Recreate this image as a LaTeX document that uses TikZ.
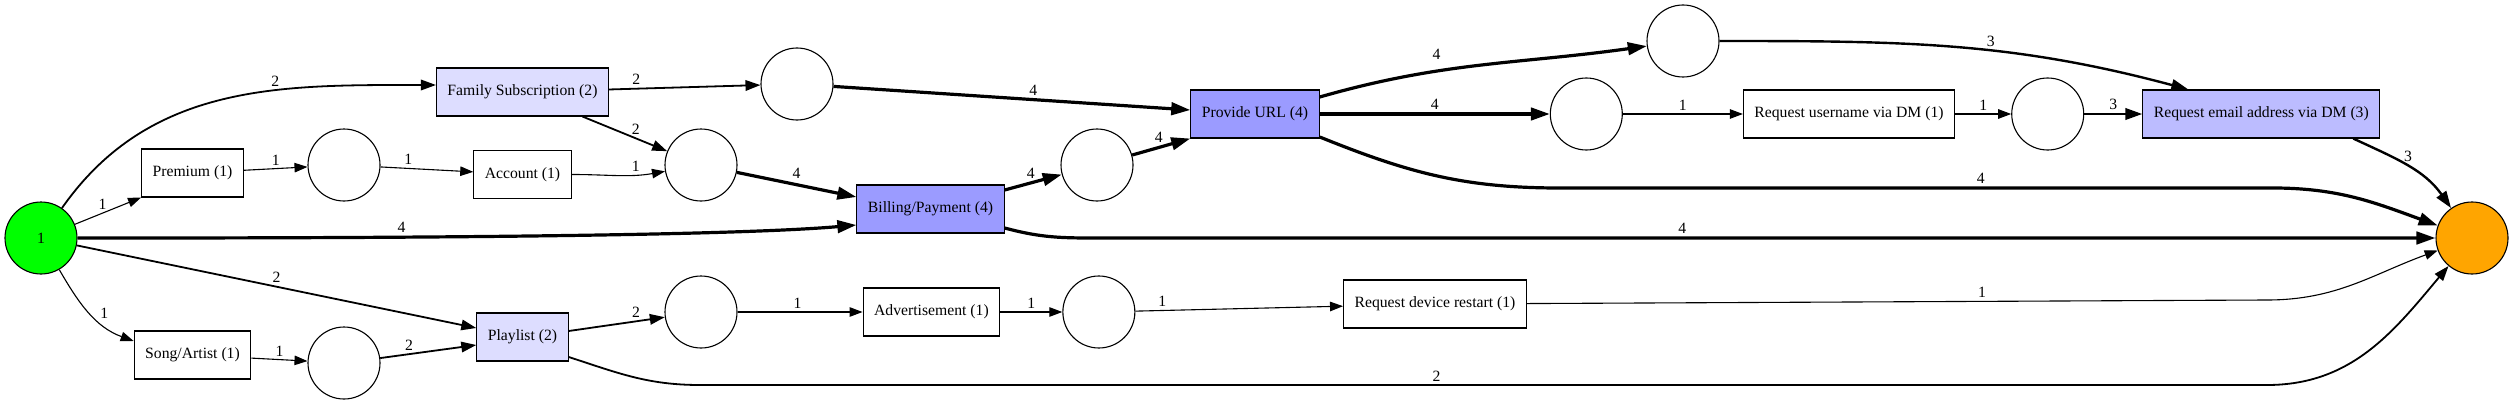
\documentclass[tikz,border=0pt]{standalone}
\usepackage{fontspec}
\setmainfont{Liberation Serif}
\usetikzlibrary{arrows.meta,positioning}
\definecolor{SrcGreen}{HTML}{00FF00}
\definecolor{SinkOrange}{HTML}{FFA500}
\definecolor{FreqTwo}{HTML}{DDDDFF}
\definecolor{FreqThree}{HTML}{BCBCFF}
\definecolor{FreqFour}{HTML}{9B9BFF}

\begin{document}
\begin{tikzpicture}[
  x=1pt, y=1pt,
  font=\fontsize{15.7}{18}\selectfont,
  place/.style={circle,draw,line width=1.1pt,minimum size=72pt,inner sep=0pt,fill=white},
  trans/.style={rectangle,draw,line width=1.1pt,minimum height=48pt,inner xsep=11pt,inner ysep=0pt,fill=white},
  lbl/.style={inner sep=1pt},
  arc1/.style={-{Triangle[length=13pt,width=9.5pt]},line width=1.1pt},
  arc2/.style={-{Triangle[length=15pt,width=10.5pt]},line width=1.8pt},
  arc3/.style={-{Triangle[length=17pt,width=11.5pt]},line width=2.4pt},
  arc4/.style={-{Triangle[length=19pt,width=12.5pt]},line width=3.2pt}
]
\useasboundingbox (0,0) rectangle (2513,-404);
% places and transitions
\node[place,fill=SrcGreen] (src) at (41,-238) {1};
\node[place,fill=SinkOrange] (sink) at (2472,-238) {};
\node[trans] (prem) at (192.5,-173) {Premium (1)};
\node[place] (ppr) at (344,-165) {};
\node[trans] (acc) at (522.5,-174.5) {Account (1)};
\node[trans,fill=FreqTwo] (fam) at (522.5,-92) {Family Subscription (2)};
\node[place] (pfam) at (797,-84) {};
\node[place] (pjoin) at (701,-165) {};
\node[trans,fill=FreqFour] (bill) at (930.5,-209) {Billing/Payment (4)};
\node[place] (pbill) at (1097,-165) {};
\node[trans,fill=FreqFour] (url) at (1255,-114) {Provide URL (4)};
\node[place] (ptop) at (1683,-41) {};
\node[place,right=230pt of url] (pmid) {};
\node[trans,right=120pt of pmid] (ruser) {Request username via DM (1)};
\node[place,right=56pt of ruser] (puser) {};
\node[trans,fill=FreqThree,right=58pt of puser] (remail) {Request email address via DM (3)};
\node[trans] (song) at (192.5,-355) {Song/Artist (1)};
\node[place] (psong) at (344,-363) {};
\node[trans,fill=FreqTwo] (play) at (522.5,-337) {Playlist (2)};
\node[place] (pplay) at (701,-312) {};
\node[trans,right=125pt of pplay] (adv) {Advertisement (1)};
\node[place,right=62pt of adv] (padv) {};
\node[trans] (rdev) at (1435,-304) {Request device restart (1)};
% bends of the long arcs
\coordinate (urlA) at (1560,-188);
\coordinate (urlB) at (2273,-188);
\coordinate (playA) at (700,-385);
\coordinate (playB) at (2267,-385);
\coordinate (devA) at (2267,-300);
% arcs
\draw[arc2] (src) to[out=55,in=180] node[lbl,pos=0.63,above=2pt]{2} ([yshift=7pt]fam.west);
\draw[arc1] (src) -- node[lbl,midway,above left=0pt]{1} (prem.south west);
\draw[arc4] (src) to[out=0,in=185,looseness=0.5] node[lbl,pos=0.43,above=2pt]{4} ([yshift=-16pt]bill.west);
\draw[arc2] (src) -- node[lbl,pos=0.5,above=2pt]{2} ([yshift=9pt]play.west);
\draw[arc1] (src) to[out=-60,in=160] node[lbl,pos=0.5,right=9pt]{1} ([yshift=14pt]song.west);
\draw[arc1] (prem) -- node[lbl,midway,above=2pt]{1} (ppr);
\draw[arc1] (ppr) -- node[lbl,pos=0.3,above=2pt]{1} (acc);
\draw[arc1] (acc) to[out=0,in=190] node[lbl,pos=0.7,above=2pt]{1} (pjoin);
\draw[arc2] (fam) -- node[lbl,pos=0.18,above=2pt]{2} (pfam);
\draw[arc2] ([xshift=60pt]fam.south) -- node[lbl,pos=0.63,above=2pt]{2} (pjoin);
\draw[arc4] (pjoin) -- node[lbl,pos=0.5,above=4pt]{4} ([yshift=12pt]bill.west);
\draw[arc4] (pfam) -- node[lbl,pos=0.56,above=2pt]{4} ([yshift=4pt]url.west);
\draw[arc4] ([yshift=19pt]bill.east) -- node[lbl,pos=0.46,above=2pt]{4} (pbill);
\draw[arc4] (pbill) -- node[lbl,pos=0.46,above=2pt]{4} (url.south west);
\draw[arc4] ([yshift=-19pt]bill.east) to[out=-15,in=180] ([xshift=86pt,yshift=-29pt]bill.east) -- node[lbl,pos=0.44,above=2pt]{4} (sink);
\draw[arc4] ([yshift=17pt]url.east) to[out=16,in=188] node[lbl,pos=0.35,above=9pt]{4} (ptop);
\draw[arc4] (url) -- node[lbl,midway,above=2pt]{4} (pmid);
\draw[arc4] ([yshift=-23pt]url.east) to[out=-22,in=180] (urlA) -- node[lbl,pos=0.59,above=2pt]{4} (urlB) to[out=0,in=160] (sink);
\draw[arc1] (pmid) -- node[lbl,midway,above=2pt]{1} (ruser);
\draw[arc1] (ruser) -- node[lbl,midway,above=2pt]{1} (puser);
\draw[arc3] (puser) -- node[lbl,midway,above=2pt]{3} (remail);
\draw[arc3] (ptop) to[out=0,in=165] node[lbl,pos=0.58,above=2pt]{3} ([xshift=-73pt]remail.north);
\draw[arc3] ([xshift=92pt]remail.south) to[out=-25,in=125] node[lbl,pos=0.5,above=2pt]{3} (sink);
\draw[arc1] (song) -- node[lbl,midway,above=2pt]{1} (psong);
\draw[arc2] (psong) -- node[lbl,pos=0.3,above=2pt]{2} ([yshift=-8pt]play.west);
\draw[arc2] ([yshift=6pt]play.east) -- node[lbl,pos=0.7,above=2pt]{2} (pplay);
\draw[arc2] ([yshift=-20pt]play.east) to[out=-18,in=180] (playA) -- node[lbl,pos=0.47,above=2pt]{2} (playB) to[out=0,in=230] (sink);
\draw[arc1] (pplay) -- node[lbl,pos=0.48,above=2pt]{1} (adv);
\draw[arc1] (adv) -- node[lbl,midway,above=2pt]{1} (padv);
\draw[arc1] (padv) -- node[lbl,pos=0.13,above=2pt]{1} (rdev);
\draw[arc1] (rdev) -- node[lbl,pos=0.615,above=2pt]{1} (devA) to[out=0,in=200] (sink);
\end{tikzpicture}
\end{document}
